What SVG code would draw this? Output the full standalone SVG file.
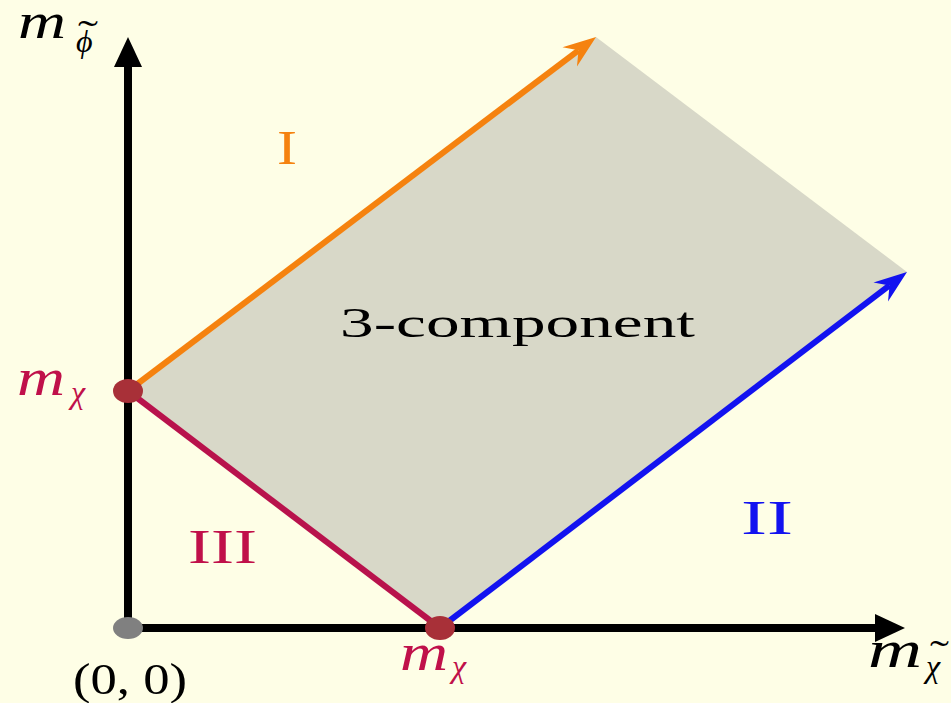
<svg xmlns="http://www.w3.org/2000/svg" width="951" height="703" viewBox="0 0 951 703">
<style>
.serif{font-family:"Liberation Serif","DejaVu Serif",serif;}
.it{font-family:"Liberation Serif","DejaVu Serif",serif;font-style:italic;}
.ax{stroke:#000;stroke-width:8;fill:none;}
.edge{stroke-width:6;fill:none;}
</style>
<defs>
<marker id="axArrow" markerUnits="userSpaceOnUse" viewBox="-32 -16 34 32" markerWidth="34" markerHeight="32" refX="-30" refY="0" orient="auto">
<path d="M0,0 L-30,-14 L-30,14 Z" fill="#000"/>
</marker>
<marker id="orArrow" markerUnits="userSpaceOnUse" viewBox="-34 -15 36 30" markerWidth="36" markerHeight="30" refX="-22" refY="0" orient="auto">
<path d="M0,0 L-33,-12 L-22,0 L-33,12 Z" fill="#F5820F"/>
</marker>
<marker id="blArrow" markerUnits="userSpaceOnUse" viewBox="-34 -15 36 30" markerWidth="36" markerHeight="30" refX="-22" refY="0" orient="auto">
<path d="M0,0 L-33,-12 L-22,0 L-33,12 Z" fill="#1212F0"/>
</marker>
</defs>
<rect x="0" y="0" width="951" height="703" fill="#FEFEE6"/>
<g id="region">
<polygon points="128,391 596,37 907,272 440,628" fill="#D8D8C8"/>
</g>
<g id="connectors">
<line class="ax" x1="128" y1="632" x2="128" y2="67" marker-end="url(#axArrow)"/>
<line class="ax" x1="124" y1="628" x2="875" y2="628" marker-end="url(#axArrow)"/>
<line class="edge" stroke="#F5820F" x1="128" y1="391" x2="578.5" y2="50.3" marker-end="url(#orArrow)"/>
<line class="edge" stroke="#1212F0" x1="440" y1="628" x2="889.5" y2="285.4" marker-end="url(#blArrow)"/>
<line class="edge" stroke="#B8124C" x1="128" y1="391" x2="440" y2="628"/>
</g>
<g id="origin">
<ellipse cx="128" cy="628" rx="15" ry="11" fill="#808080"/>
<text class="serif" x="73" y="694" font-size="44" textLength="114" lengthAdjust="spacingAndGlyphs">(0, 0)</text>
</g>
<g id="point-y">
<ellipse cx="128" cy="391" rx="15" ry="12" fill="#A83038"/>
<text class="it" x="17" y="395" font-size="52" fill="#C0104A" textLength="48" lengthAdjust="spacingAndGlyphs">m</text>
<text class="it" x="71" y="403" font-size="32" fill="#C0104A">χ</text>
</g>
<g id="point-x">
<ellipse cx="440" cy="628" rx="15" ry="12" fill="#A83038"/>
<text class="it" x="400" y="670" font-size="52" fill="#C0104A" textLength="48" lengthAdjust="spacingAndGlyphs">m</text>
<text class="it" x="452" y="677" font-size="32" fill="#C0104A">χ</text>
</g>
<g id="axis-y-label">
<text class="it" x="18" y="38" font-size="50" textLength="48" lengthAdjust="spacingAndGlyphs">m</text>
<text class="it" x="76" y="52" font-size="32">ϕ</text>
<text class="serif" x="78" y="46" font-size="36" textLength="20" lengthAdjust="spacingAndGlyphs">˜</text>
</g>
<g id="axis-x-label">
<text class="it" x="868" y="667" font-size="52" textLength="54" lengthAdjust="spacingAndGlyphs">m</text>
<text class="it" x="926" y="677" font-size="32">χ</text>
<text class="serif" x="930" y="666" font-size="36" textLength="19" lengthAdjust="spacingAndGlyphs">˜</text>
</g>
<g id="label-3comp">
<text class="serif" x="340" y="337" font-size="42" textLength="355" lengthAdjust="spacingAndGlyphs">3-component</text>
</g>
<g id="label-I">
<text class="serif" x="277" y="164" font-size="48" fill="#F5820F" textLength="20" lengthAdjust="spacingAndGlyphs">I</text>
</g>
<g id="label-II">
<text class="serif" x="741" y="534" font-size="48" fill="#1212F0" textLength="52" lengthAdjust="spacingAndGlyphs">II</text>
</g>
<g id="label-III">
<text class="serif" x="188" y="563" font-size="48" fill="#C0104A" textLength="69" lengthAdjust="spacingAndGlyphs">III</text>
</g>
</svg>
